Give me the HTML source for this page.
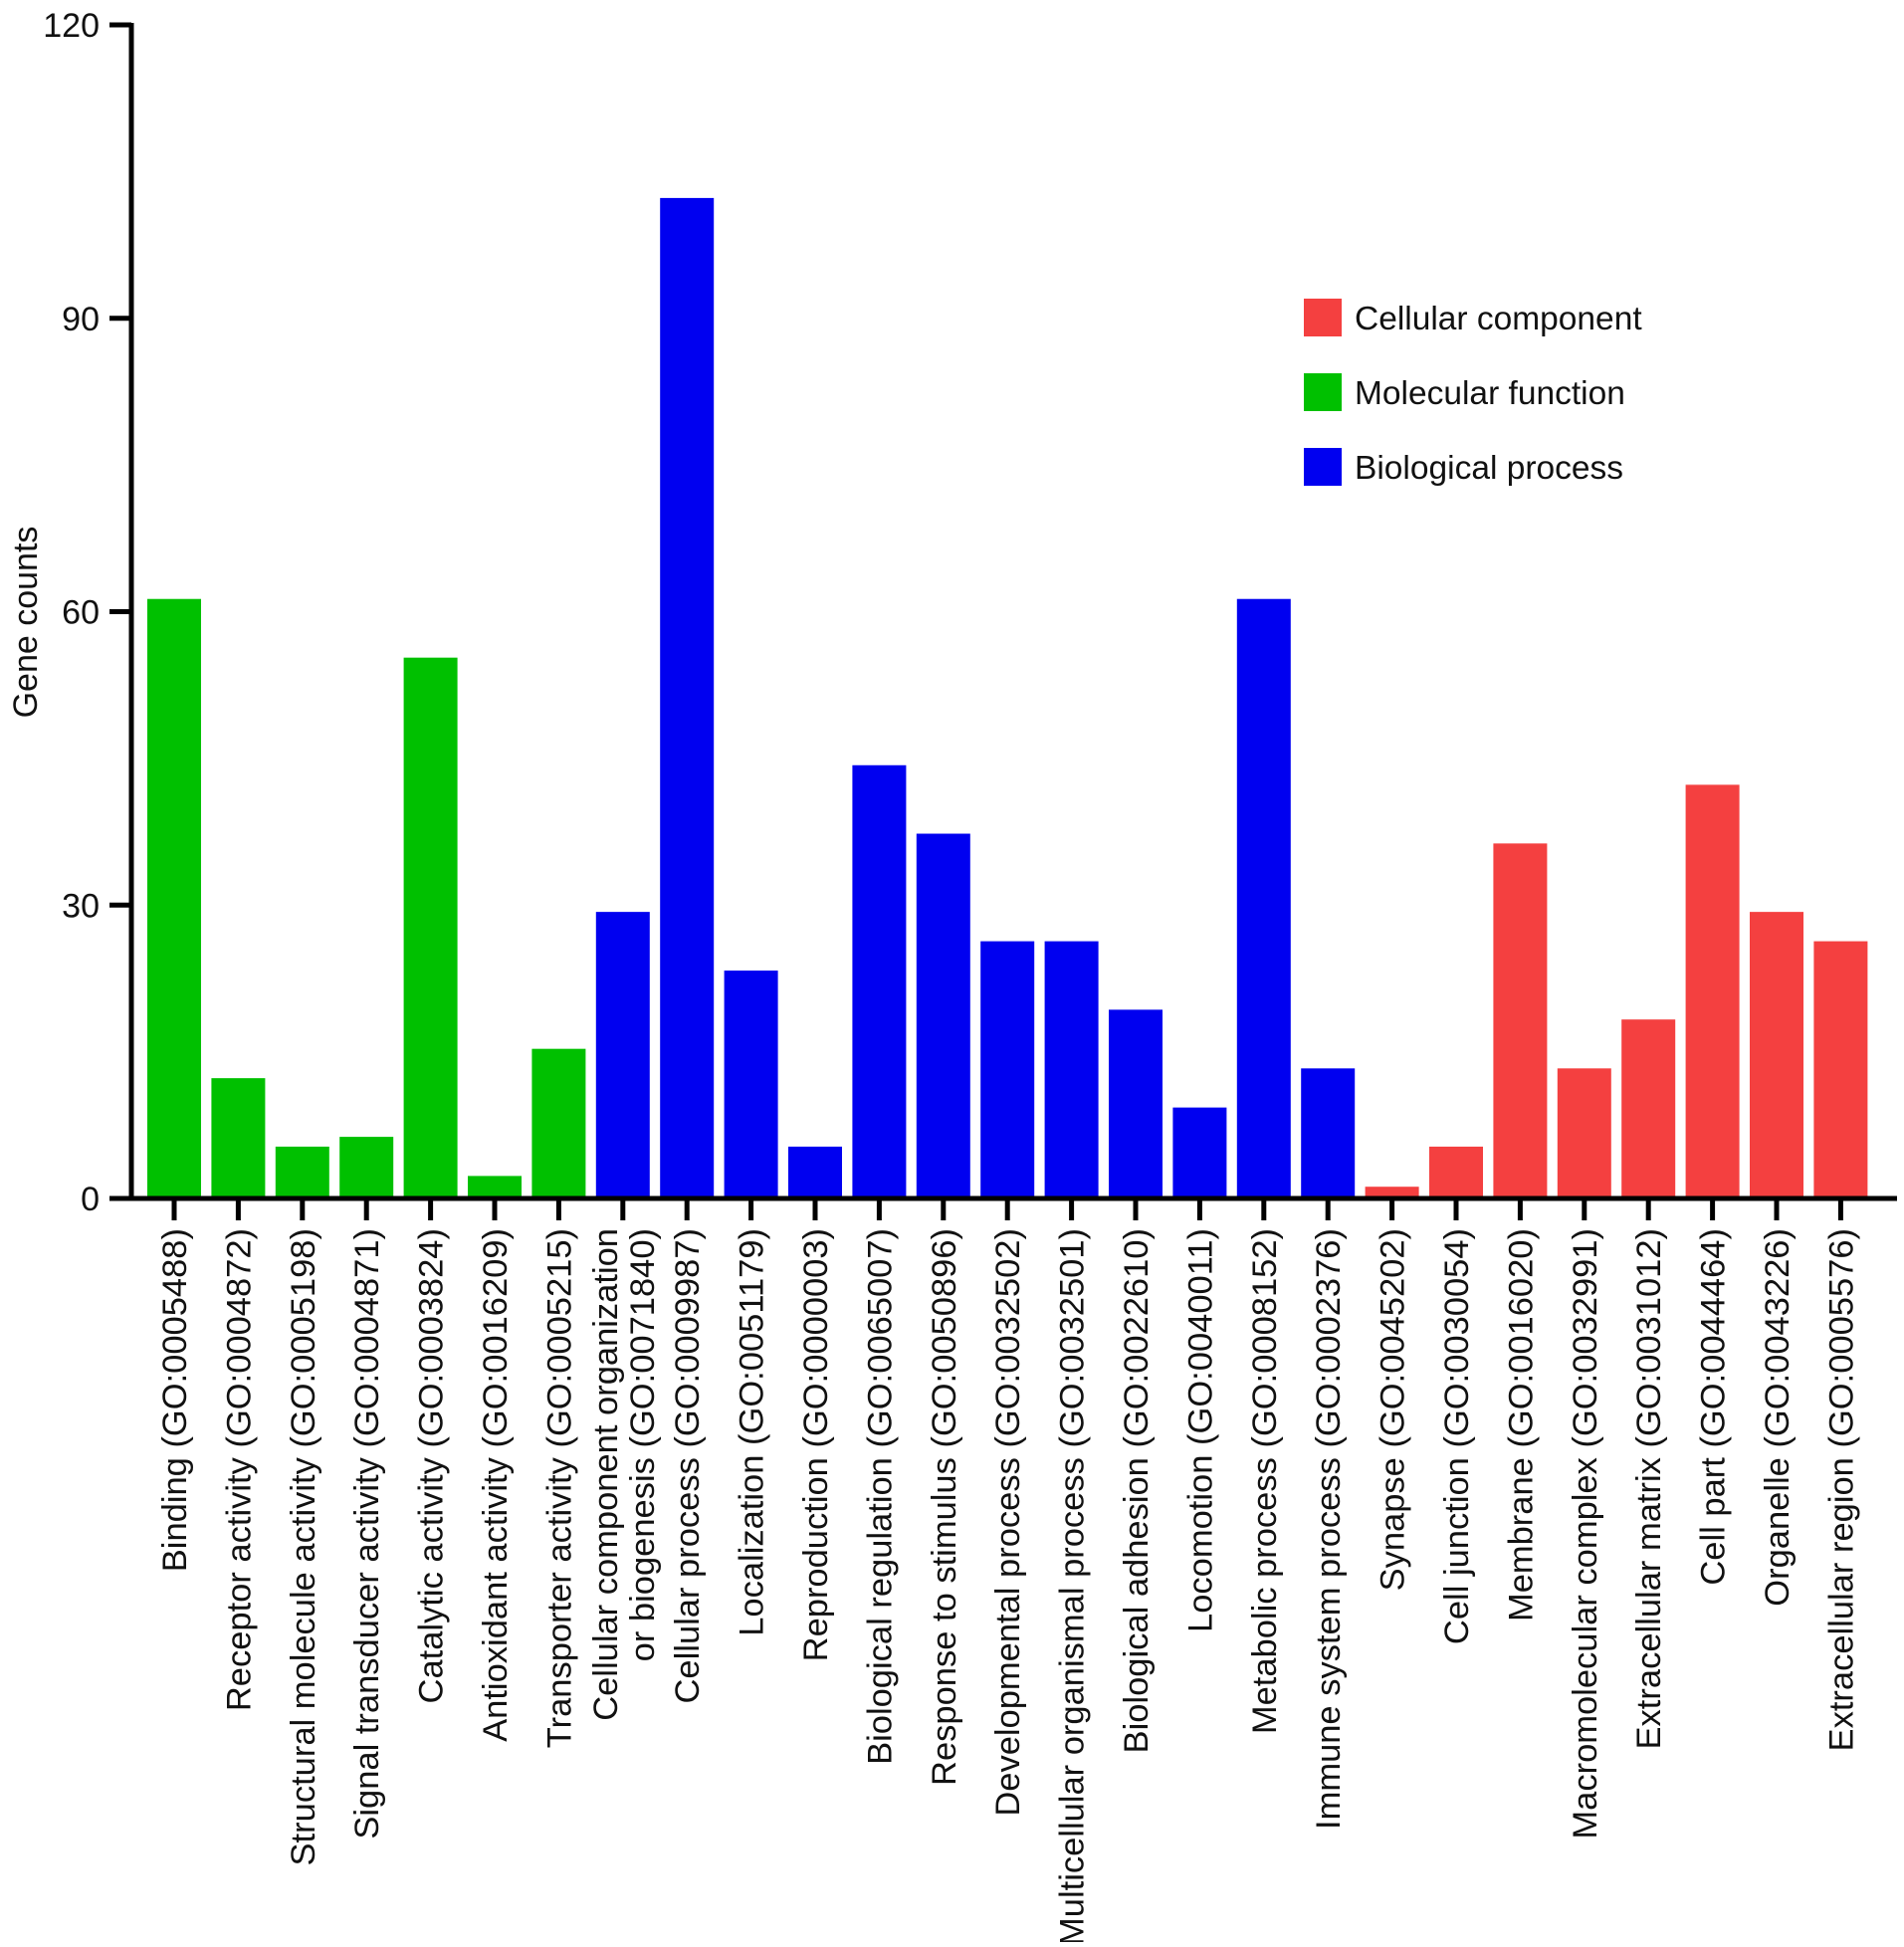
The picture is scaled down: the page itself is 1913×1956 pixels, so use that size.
<!DOCTYPE html>
<html><head><meta charset="utf-8"><style>
html,body{margin:0;padding:0;background:#fff;}
svg text{font-family:"Liberation Sans",sans-serif;fill:#111;}
</style></head><body>
<svg id="chart" width="1913" height="1951" viewBox="0 0 1913 1951" xmlns="http://www.w3.org/2000/svg">
<g id="bars"></g>
<g id="axes"></g>
<g id="legend"></g>
</svg>
<script>
const categories = ["Binding (GO:0005488)","Receptor activity (GO:0004872)","Structural molecule activity (GO:0005198)","Signal transducer activity (GO:0004871)","Catalytic activity (GO:0003824)","Antioxidant activity (GO:0016209)","Transporter activity (GO:0005215)","Cellular component organization|or biogenesis (GO:0071840)","Cellular process (GO:0009987)","Localization (GO:0051179)","Reproduction (GO:0000003)","Biological regulation (GO:0065007)","Response to stimulus (GO:0050896)","Developmental process (GO:0032502)","Multicellular organismal process (GO:0032501)","Biological adhesion (GO:0022610)","Locomotion (GO:0040011)","Metabolic process (GO:0008152)","Immune system process (GO:0002376)","Synapse (GO:0045202)","Cell junction (GO:0030054)","Membrane (GO:0016020)","Macromolecular complex (GO:0032991)","Extracellular matrix (GO:0031012)","Cell part (GO:0044464)","Organelle (GO:0043226)","Extracellular region (GO:0005576)"];
const values = [61.3,12.3,5.3,6.3,55.3,2.3,15.3,29.3,102.3,23.3,5.3,44.3,37.3,26.3,26.3,19.3,9.3,61.3,13.3,1.2,5.3,36.3,13.3,18.3,42.3,29.3,26.3];
const groups = ["MF","MF","MF","MF","MF","MF","MF","BP","BP","BP","BP","BP","BP","BP","BP","BP","BP","BP","BP","CC","CC","CC","CC","CC","CC","CC","CC"];
const yTicks = [0,30,60,90,120];
const legendKeys = ["CC","MF","BP"];
const legendLabels = ["Cellular component","Molecular function","Biological process"];

const colors = {MF:"#00c000", BP:"#0000f0", CC:"#f44040"};
const NS = "http://www.w3.org/2000/svg";
const x0 = 132, xFirst = 175, step = 64.4, barW = 54, y0 = 1204, yTop = 25, yMax = 120;
const yScale = v => y0 - (v / yMax) * (y0 - yTop);
const xScale = i => xFirst + i * step;
function mk(tag, attrs, parent){ const e=document.createElementNS(NS,tag); for(const k in attrs) e.setAttribute(k,attrs[k]); parent.appendChild(e); return e; }
const bars = document.getElementById('bars'), axes = document.getElementById('axes'), legend = document.getElementById('legend');

values.forEach((v,i)=>{
  const r = mk('rect',{x:xScale(i)-barW/2, y:yScale(v), width:barW, height:y0-yScale(v), fill:colors[groups[i]]}, bars);
  
  
  const t = mk('line',{x1:xScale(i),x2:xScale(i),y1:y0,y2:y0+22,stroke:'#000','stroke-width':5}, axes);
  
  
  const lines = categories[i].split('|');
  const tx = mk('text',{transform:`translate(${xScale(i)},1234) rotate(-90)`,'text-anchor':'end','font-size':34.5}, axes);
  
  
  lines.forEach((ln,j)=>{
    const dy = lines.length===1 ? 12 : (j===0 ? -6 : 31);
    const ts = mk('tspan',{x:0, y:dy}, tx);
    ts.textContent = ln;
  });
});

const ya = mk('line',{x1:x0,x2:x0,y1:yTop-2,y2:y0+2,stroke:'#000','stroke-width':5}, axes);


const xa = mk('line',{x1:x0-22,x2:1906,y1:y0,y2:y0,stroke:'#000','stroke-width':5}, axes);


yTicks.forEach(v=>{
  const t = mk('line',{x1:x0-22,x2:x0,y1:yScale(v),y2:yScale(v),stroke:'#000','stroke-width':5}, axes);
  
  
  const l = mk('text',{x:100,y:yScale(v)+12,'text-anchor':'end','font-size':34}, axes);
  
  
  l.textContent = v;
});
const yt = mk('text',{transform:'translate(37,625) rotate(-90)','text-anchor':'middle','font-size':34}, axes);


yt.textContent = 'Gene counts';

legendKeys.forEach((k,i)=>{
  const cy = 319 + i*75;
  const s = mk('rect',{x:1310,y:cy-19,width:38,height:38,fill:colors[k]}, legend);
  
  
  const t = mk('text',{x:1361,y:cy+12,'font-size':33.5}, legend);
  
  
  t.textContent = legendLabels[i];
});
</script>
</body></html>
